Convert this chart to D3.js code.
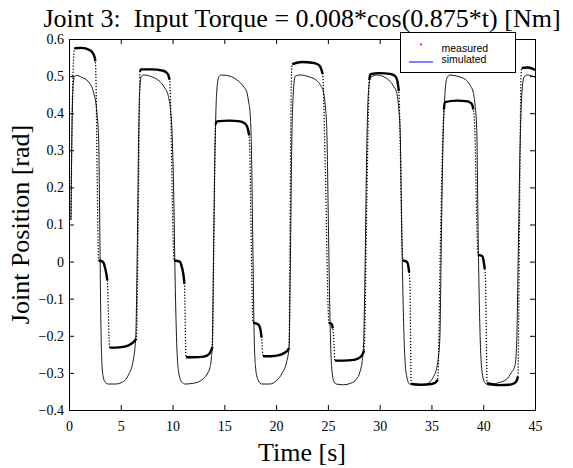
<!DOCTYPE html>
<html>
<head>
<meta charset="utf-8">
<script src="https://cdn.jsdelivr.net/npm/d3@7"></script>
<style>
  body { margin: 0; background: #fff; }
  svg { display: block; }
</style>
</head>
<body>
<svg width="573" height="468"></svg>
<script>
/* joint 3 position: measured vs simulated */

// DATA ///////////////////////////////////////////////////////////////////////
// [time (s), position (rad)]
const measured = [
  [0.19, 0.114], [0.28, 0.34], [0.4, 0.52], [0.55, 0.575],
  [1.2, 0.576], [2.0, 0.57], [2.3, 0.562], [2.45, 0.553], [2.55, 0.54],
  [2.87, 0.003], [3.25, 0.0], [3.4, -0.008], [3.55, -0.025], [3.7, -0.05],
  [3.93, -0.232], [4.5, -0.232], [5.2, -0.23], [5.8, -0.225], [6.2, -0.218], [6.5, -0.208],
  [6.72, 0.2], [6.85, 0.512], [6.95, 0.518],
  [8.0, 0.518], [9.0, 0.515], [9.4, 0.51], [9.6, 0.502], [9.72, 0.49],
  [10.15, 0.003], [10.7, 0.0], [10.9, -0.015], [11.05, -0.035], [11.15, -0.06],
  [11.3, -0.258], [12.0, -0.258], [13.0, -0.256], [13.5, -0.25], [13.75, -0.238], [13.85, -0.23],
  [14.0, 0.1], [14.15, 0.37], [14.3, 0.378],
  [15.5, 0.38], [16.5, 0.378], [17.0, 0.372], [17.25, 0.36], [17.4, 0.34],
  [17.78, -0.165], [18.1, -0.167], [18.35, -0.172], [18.5, -0.185], [18.6, -0.205],
  [18.74, -0.255], [19.5, -0.255], [20.3, -0.252], [20.8, -0.246], [21.1, -0.24], [21.25, -0.233],
  [21.35, 0.1], [21.45, 0.45], [21.55, 0.532],
  [22.5, 0.538], [23.5, 0.536], [24.0, 0.532], [24.3, 0.523], [24.5, 0.505],
  [24.75, 0.25], [25.1, -0.165], [25.35, -0.168], [25.48, -0.18], [25.55, -0.2],
  [25.68, -0.267], [26.5, -0.267], [27.5, -0.265], [28.0, -0.26], [28.3, -0.252], [28.5, -0.24],
  [28.75, 0.15], [29.0, 0.49], [29.1, 0.505],
  [30.0, 0.508], [31.0, 0.506], [31.5, 0.5], [31.7, 0.488], [31.85, 0.46],
  [32.25, 0.003], [32.6, 0.0], [32.75, -0.01], [32.85, -0.03], [32.92, -0.06],
  [33.05, -0.33], [34.0, -0.332], [35.0, -0.33], [35.4, -0.326], [35.6, -0.318],
  [35.9, 0.1], [36.2, 0.41], [36.3, 0.43],
  [37.5, 0.434], [38.5, 0.432], [38.9, 0.425], [39.05, 0.41], [39.15, 0.38],
  [39.5, 0.018], [39.9, 0.015], [40.05, 0.0], [40.15, -0.02], [40.22, -0.05],
  [40.38, -0.328], [41.5, -0.333], [42.5, -0.332], [43.0, -0.328], [43.25, -0.32], [43.35, -0.31],
  [43.5, 0.1], [43.65, 0.5], [43.72, 0.522],
  [44.3, 0.523], [45.0, 0.517]
];

const simulated = [
  [0.19, 0.114], [0.3, 0.38], [0.42, 0.48], [0.55, 0.5], [0.75, 0.502],
  [1.2, 0.497], [1.9, 0.484], [2.38, 0.455], [2.7, 0.401], [2.87, 0.322],
  [2.97, 0.1], [3.07, -0.15], [3.17, -0.27], [3.3, -0.31], [3.5, -0.325], [3.8, -0.33],
  [4.5, -0.33], [5.09, -0.326], [5.73, -0.306], [6.21, -0.265], [6.45, -0.2],
  [6.6, 0.05], [6.73, 0.35], [6.85, 0.47], [7.0, 0.5], [7.2, 0.503],
  [8.0, 0.498], [8.7, 0.487], [9.27, 0.467], [9.6, 0.445], [9.8, 0.41], [9.95, 0.35],
  [10.1, 0.2], [10.25, -0.05], [10.4, -0.22], [10.6, -0.3], [10.9, -0.325], [11.2, -0.33],
  [12.0, -0.328], [12.97, -0.316], [13.4, -0.3], [13.6, -0.287], [13.75, -0.26], [13.84, -0.22],
  [13.95, 0.0], [14.1, 0.3], [14.25, 0.45], [14.45, 0.497], [14.7, 0.503],
  [15.2, 0.502], [16.2, 0.49], [16.9, 0.47], [17.16, 0.458], [17.35, 0.43], [17.48, 0.404],
  [17.62, 0.3], [17.75, 0.05], [17.88, -0.2], [18.0, -0.28], [18.2, -0.315], [18.6, -0.33],
  [19.4, -0.33], [20.06, -0.32], [20.6, -0.3], [21.02, -0.27], [21.25, -0.23],
  [21.38, 0.0], [21.5, 0.3], [21.65, 0.45], [21.85, 0.5], [22.3, 0.503],
  [23.2, 0.498], [23.92, 0.488], [24.3, 0.475], [24.56, 0.458], [24.75, 0.42], [24.9, 0.35],
  [25.05, 0.1], [25.2, -0.15], [25.35, -0.28], [25.55, -0.32], [25.8, -0.33],
  [26.5, -0.332], [27.2, -0.328], [27.78, -0.316], [28.1, -0.297], [28.3, -0.27], [28.45, -0.22],
  [28.6, 0.0], [28.75, 0.3], [28.9, 0.45], [29.1, 0.495], [29.71, 0.503],
  [30.4, 0.498], [31.0, 0.486], [31.4, 0.47], [31.64, 0.456], [31.85, 0.41], [31.98, 0.35],
  [32.15, 0.05], [32.35, -0.2], [32.55, -0.3], [32.9, -0.33],
  [33.9, -0.333], [34.5, -0.33], [34.86, -0.324], [35.2, -0.31], [35.5, -0.288], [35.7, -0.25], [35.82, -0.2],
  [35.95, 0.05], [36.1, 0.3], [36.3, 0.45], [36.5, 0.495], [36.8, 0.503],
  [37.1, 0.502], [37.8, 0.497], [38.4, 0.488], [38.8, 0.472], [39.04, 0.456], [39.22, 0.42], [39.37, 0.36],
  [39.52, 0.05], [39.7, -0.2], [39.9, -0.3], [40.2, -0.328], [40.6, -0.333],
  [41.3, -0.328], [42.26, -0.317], [42.7, -0.3], [43.07, -0.28], [43.23, -0.22],
  [43.4, 0.05], [43.55, 0.3], [43.75, 0.46], [43.95, 0.498], [44.3, 0.503], [45.0, 0.497]
];

const xTicks = [0, 5, 10, 15, 20, 25, 30, 35, 40, 45];
const yTicks = [-0.4, -0.3, -0.2, -0.1, 0, 0.1, 0.2, 0.3, 0.4, 0.5, 0.6];
const legendNames = ['measured', 'simulated'];
const legendColors = ['#ff0000', '#0000ff'];

// SET PARAMETERS /////////////////////////////////////////////////////////////
const svg = d3.select('svg');
const margin = { top: 39, right: 38, bottom: 58, left: 69 };
const width = +svg.attr('width') - margin.left - margin.right;
const height = +svg.attr('height') - margin.top - margin.bottom;
const serif = 'Liberation Serif, Times New Roman, serif';
const sans = 'Liberation Sans, Arial, sans-serif';

const g = svg
  .append('g')
  .attr('transform', `translate(${margin.left},${margin.top})`);

const x = d3.scaleLinear().domain([0, 45]).range([0, width]);
const y = d3.scaleLinear().domain([-0.4, 0.6]).range([height, 0]);

const line = d3
  .line()
  .x(d => x(d[0]))
  .y(d => y(d[1]))
  .curve(d3.curveMonotoneX);

// DRAW ///////////////////////////////////////////////////////////////////////
svg
  .append('clipPath')
  .attr('id', 'plot-clip')
  .append('rect')
  .attr('width', width)
  .attr('height', height);

const plot = g.append('g').attr('clip-path', 'url(#plot-clip)');

// simulated: thin solid line
plot
  .append('path')
  .datum(simulated)
  .attr('fill', 'none')
  .attr('stroke', '#000')
  .attr('stroke-width', 0.9)
  .attr('d', line);

// measured: sampled dots, sparse on steep edges, merged on the plateaus
plot
  .append('path')
  .datum(measured)
  .attr('fill', 'none')
  .attr('stroke', '#000')
  .attr('stroke-width', 1.5)
  .attr('stroke-linecap', 'round')
  .attr('stroke-dasharray', '0 3')
  .attr('d', line);

// group consecutive shallow segments into runs
const runs = [];
let run = [measured[0]];
for (let i = 1; i < measured.length; i++) {
  const a = measured[i - 1];
  const b = measured[i];
  const dx = Math.abs(x(b[0]) - x(a[0]));
  const dy = Math.abs(y(b[1]) - y(a[1]));
  if (dy > 10 * dx) {
    if (run.length > 1) runs.push(run);
    run = [b];
  } else {
    run.push(b);
  }
}
if (run.length > 1) runs.push(run);

plot
  .selectAll('.plateau')
  .data(runs)
  .enter()
  .append('path')
  .attr('class', 'plateau')
  .attr('fill', 'none')
  .attr('stroke', '#000')
  .attr('stroke-width', 2.4)
  .attr('d', line);

// axes (box with inward ticks)
const fmtY = d => (d === 0 ? '0' : d3.format('.1f')(d));

const axisB = g
  .append('g')
  .attr('transform', `translate(0,${height})`)
  .call(
    d3.axisBottom(x).tickValues(xTicks).tickSize(-5).tickSizeOuter(0).tickPadding(11)
  );
const axisL = g
  .append('g')
  .call(
    d3.axisLeft(y).tickValues(yTicks).tickFormat(fmtY).tickSize(-5).tickSizeOuter(0).tickPadding(5)
  );
g.append('g')
  .call(d3.axisTop(x).tickValues(xTicks).tickSize(-5).tickSizeOuter(0).tickFormat(''));
g.append('g')
  .attr('transform', `translate(${width},0)`)
  .call(d3.axisRight(y).tickValues(yTicks).tickSize(-5).tickSizeOuter(0).tickFormat(''));

g.selectAll('.domain, .tick line').attr('stroke', '#000').attr('stroke-width', 1);
[axisB, axisL].forEach(a =>
  a
    .selectAll('text')
    .attr('fill', '#000')
    .style('font-family', serif)
    .style('font-size', '14px')
);

// title and axis labels
svg
  .append('text')
  .attr('x', margin.left + width / 2)
  .attr('y', 27)
  .attr('text-anchor', 'middle')
  .style('white-space', 'pre')
  .style('font-family', serif)
  .style('font-size', '26px')
  .text('Joint 3:  Input Torque = 0.008*cos(0.875*t) [Nm]');

svg
  .append('text')
  .attr('x', margin.left + width / 2)
  .attr('y', 461)
  .attr('text-anchor', 'middle')
  .style('font-family', serif)
  .style('font-size', '26px')
  .text('Time [s]');

svg
  .append('text')
  .attr('transform', `translate(29,${margin.top + height / 2}) rotate(-90)`)
  .attr('text-anchor', 'middle')
  .style('font-family', serif)
  .style('font-size', '26px')
  .text('Joint Position [rad]');

// legend
const legend = svg.append('g').attr('transform', 'translate(400.5,32.5)');
legend
  .append('rect')
  .attr('width', 115)
  .attr('height', 40)
  .attr('fill', '#fff')
  .attr('stroke', '#000')
  .attr('stroke-width', 1);

legend
  .append('circle')
  .attr('cx', 20.5)
  .attr('cy', 12)
  .attr('r', 1)
  .attr('fill', legendColors[0]);

legend
  .append('line')
  .attr('x1', 8.5)
  .attr('x2', 32.5)
  .attr('y1', 29.5)
  .attr('y2', 29.5)
  .attr('stroke', legendColors[1])
  .attr('stroke-width', 1);

legend
  .selectAll('.legend-label')
  .data(legendNames)
  .enter()
  .append('text')
  .attr('class', 'legend-label')
  .attr('x', 41)
  .attr('y', (d, i) => 19.5 + i * 11)
  .style('font-family', sans)
  .style('font-size', '10.5px')
  .text(d => d);
</script>
</body>
</html>
